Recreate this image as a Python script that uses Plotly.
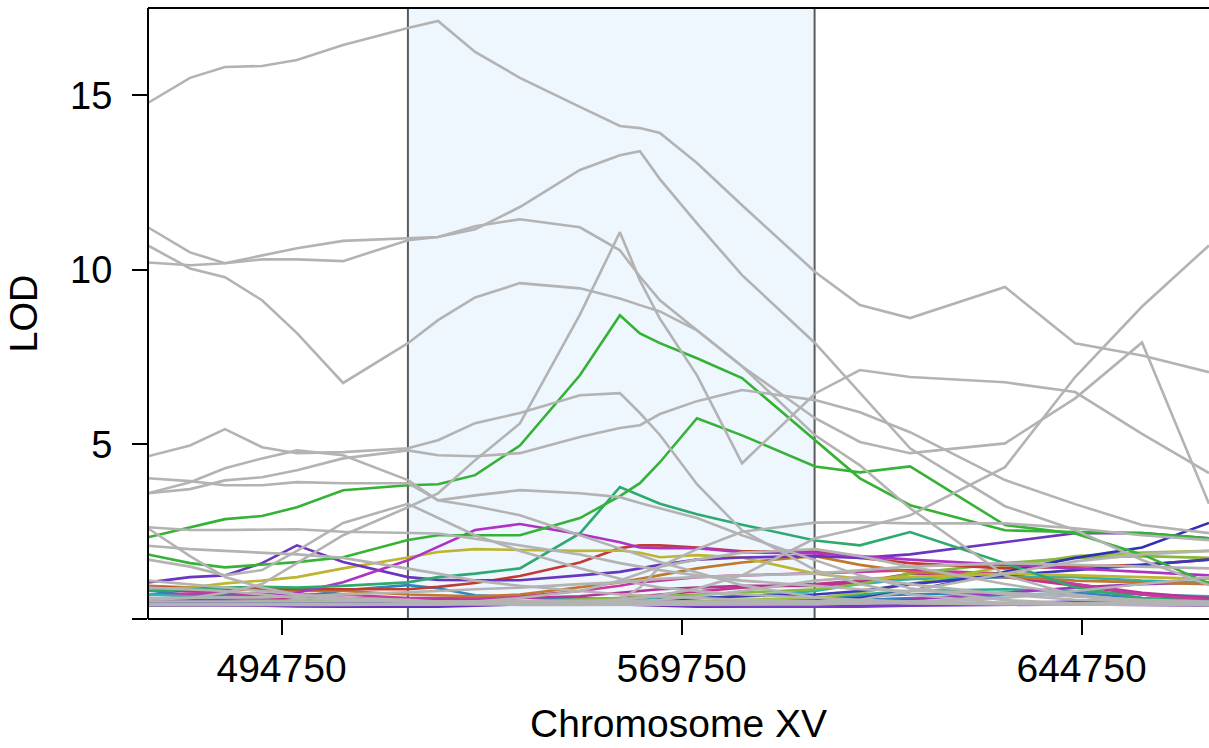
import plotly.graph_objects as go

# Marker positions on chromosome XV (bp)
POS = [469700, 477600, 484150, 491100, 497650, 506300, 518450, 524100, 531050, 539450,
       550700, 558200, 561950, 565700, 572650, 581100, 594800, 603200, 612600, 630400,
       643550, 656100, 668650]

X_RANGE = [469719, 668650]
Y_RANGE = [0, 17.5]
X_TICKS = [494750, 569750, 644750]
Y_TICKS = [0, 5, 10, 15]
Y_TICKTEXT = ["", "5", "10", "15"]
INTERVAL = [518450, 594700]

# ---- non-highlighted (gray) LOD curves ----
gray_g1 = [14.78, 15.50, 15.81, 15.84, 16.01, 16.44, 16.93, 17.13, 16.24, 15.50, 14.67, 14.12, 14.06, 13.92, 13.06, 11.85, 9.94, 8.99, 8.62, 9.51, 7.9, 7.55, 7.07]
gray_g2 = [10.21, 10.13, 10.19, 10.30, 10.30, 10.25, 10.85, 10.94, 11.16, 11.8, 12.86, 13.28, 13.4, 12.6, 11.33, 9.85, 7.9, 6.47, 4.89, 3.23, 2.55, 1.69, 0.97]
gray_a = [11.22, 10.5, 10.19, 10.42, 10.62, 10.83, 10.91, 10.94, 11.25, 11.45, 11.22, 10.56, 9.81, 9.13, 8.27, 7.24, 5.26, 4.4, 3.17, 1.25, 0.68, 0.45, 0.4]
gray_c = [10.7, 10.04, 9.79, 9.13, 8.19, 6.76, 7.9, 8.56, 9.21, 9.62, 9.47, 9.18, 8.99, 8.81, 8.27, 7.24, 5.75, 5.07, 4.75, 5.03, 6.32, 7.92, 3.3]
gray_v = [0.55, 0.6, 0.75, 1.0, 1.6, 2.4, 3.2, 3.6, 4.55, 5.6, 8.72, 11.08, 9.7, 8.6, 6.98, 4.46, 6.46, 7.13, 6.93, 6.78, 6.5, 5.3, 4.18]
gray_p5 = [4.66, 4.97, 5.44, 4.92, 4.75, 4.78, 4.89, 5.12, 5.61, 5.9, 6.41, 6.47, 5.9, 5.27, 3.86, 2.54, 1.4, 1.0, 0.7, 0.45, 0.42, 0.4, 0.4]
gray_mid = [3.6, 3.72, 3.97, 4.06, 4.26, 4.6, 4.83, 4.69, 4.66, 4.75, 5.21, 5.47, 5.55, 5.87, 6.24, 6.56, 6.27, 5.92, 5.35, 3.98, 3.29, 2.69, 2.46]
gray_39 = [4.03, 3.95, 3.83, 3.83, 3.92, 3.89, 3.89, 3.4, 3.23, 2.97, 2.4, 2.03, 1.83, 1.63, 1.34, 0.97, 0.62, 0.5, 0.45, 0.42, 0.42, 0.4, 0.4]
gray_hump = [3.6, 3.92, 4.32, 4.6, 4.83, 4.69, 3.98, 3.4, 3.54, 3.69, 3.6, 3.49, 3.32, 3.17, 2.89, 2.4, 1.68, 1.25, 0.88, 0.54, 0.45, 0.42, 0.4]
gray_rise = [0.4, 0.4, 0.38, 0.38, 0.38, 0.4, 0.42, 0.42, 0.45, 0.45, 0.48, 0.55, 0.6, 0.68, 0.87, 1.25, 2.31, 2.6, 2.97, 4.35, 6.93, 8.95, 10.7]
gray_flat = [0.42, 0.42, 0.42, 0.42, 0.42, 0.42, 0.42, 0.42, 0.42, 0.45, 0.5, 0.55, 0.9, 1.5, 2.0, 2.5, 2.76, 2.77, 2.74, 2.74, 2.6, 2.4, 2.26]
gray_pk = [1.7, 1.5, 1.25, 1.4, 1.95, 2.75, 3.3, 2.9, 2.4, 1.95, 1.45, 1.15, 1.0, 0.9, 0.8, 0.7, 0.6, 0.55, 0.5, 0.45, 0.42, 0.4, 0.4]
gray_l1 = [2.6, 1.8, 1.2, 0.9, 0.7, 0.55, 0.5, 0.48, 0.46, 0.45, 0.45, 0.45, 0.45, 0.45, 0.45, 0.45, 0.45, 0.45, 0.45, 0.45, 0.42, 0.42, 0.42]
gray_l2 = [2.1, 2.0, 1.95, 1.9, 1.85, 1.75, 1.45, 1.3, 1.1, 0.95, 0.8, 0.7, 0.68, 0.65, 0.6, 0.55, 0.5, 0.48, 0.46, 0.45, 0.45, 0.45, 0.45]
gray_l4 = [2.63, 2.55, 2.55, 2.57, 2.57, 2.5, 2.48, 2.45, 2.3, 2.1, 1.85, 1.6, 1.5, 1.4, 1.25, 1.1, 0.95, 0.85, 0.8, 0.75, 0.65, 0.55, 0.5]
gray_l5 = [0.5, 0.5, 0.5, 0.5, 0.5, 0.5, 0.5, 0.5, 0.5, 0.5, 0.5, 0.5, 0.5, 0.5, 0.5, 0.5, 0.5, 0.55, 0.8, 1.3, 1.65, 1.85, 1.95]
gray_l6 = [0.6, 0.6, 0.6, 0.62, 0.65, 0.7, 0.75, 0.8, 0.85, 0.9, 1.0, 1.05, 1.1, 1.15, 1.2, 1.25, 1.3, 1.4, 1.5, 1.6, 1.55, 1.5, 1.45]
gray_l7 = [1.1, 1.0, 0.9, 0.8, 0.7, 0.6, 0.55, 0.5, 0.5, 0.5, 0.5, 0.5, 0.52, 0.55, 0.65, 0.8, 1.1, 1.2, 1.0, 0.7, 0.55, 0.5, 0.45]
gray_l8 = [0.9, 0.85, 0.8, 0.7, 0.6, 0.55, 0.5, 0.45, 0.42, 0.4, 0.4, 0.4, 0.4, 0.4, 0.4, 0.4, 0.42, 0.45, 0.5, 0.6, 0.8, 1.0, 1.2]
gray_l9 = [0.4, 0.4, 0.4, 0.4, 0.4, 0.4, 0.42, 0.45, 0.5, 0.6, 0.8, 1.1, 1.3, 1.5, 1.7, 1.9, 2.0, 1.8, 1.5, 1.0, 0.7, 0.5, 0.45]

# ---- highlighted (coloured) LOD curves ----
col_green1 = [2.34, 2.63, 2.86, 2.95, 3.2, 3.69, 3.83, 3.86, 4.12, 4.97, 6.98, 8.7, 8.18, 7.9, 7.47, 6.9, 5.12, 4.03, 3.26, 2.54, 2.49, 2.46, 2.31]
col_green2 = [1.85, 1.6, 1.48, 1.55, 1.63, 1.77, 2.26, 2.4, 2.4, 2.4, 2.89, 3.52, 3.89, 4.49, 5.75, 5.26, 4.37, 4.2, 4.37, 2.69, 2.45, 1.85, 1.02]
col_teal = [0.8, 0.85, 0.9, 0.92, 0.9, 0.95, 1.05, 1.2, 1.3, 1.45, 2.45, 3.78, 3.55, 3.3, 3.0, 2.7, 2.25, 2.11, 2.49, 1.6, 0.9, 0.6, 0.5]
col_magenta = [0.55, 0.58, 0.6, 0.62, 0.75, 1.05, 1.68, 2.06, 2.55, 2.72, 2.43, 2.2, 2.05, 2.03, 2.03, 1.91, 1.88, 1.8, 1.7, 1.55, 1.45, 1.35, 1.25]
col_olive = [0.85, 0.9, 1.02, 1.1, 1.2, 1.45, 1.76, 1.92, 2.0, 1.98, 1.95, 1.96, 1.9, 1.77, 1.83, 1.76, 1.3, 1.15, 1.2, 1.3, 1.25, 1.2, 1.15]
col_purple = [1.05, 1.2, 1.25, 1.6, 2.11, 1.63, 1.2, 1.12, 1.11, 1.11, 1.25, 1.35, 1.45, 1.55, 1.7, 1.76, 1.8, 1.75, 1.85, 2.2, 2.46, 2.46, 2.31]
col_blue = [0.45, 0.45, 0.45, 0.45, 0.45, 0.45, 0.45, 0.45, 0.45, 0.45, 0.45, 0.45, 0.45, 0.45, 0.48, 0.5, 0.52, 0.6, 0.8, 1.35, 1.75, 2.05, 2.75]
col_blue2 = [0.55, 0.5, 0.5, 0.48, 0.45, 0.45, 0.45, 0.45, 0.45, 0.45, 0.45, 0.5, 0.5, 0.55, 0.6, 0.65, 0.7, 0.8, 1.0, 1.25, 1.4, 1.55, 1.7]
col_red = [0.9, 0.88, 0.87, 0.87, 0.85, 0.85, 0.85, 0.92, 1.03, 1.23, 1.62, 2.03, 2.11, 2.11, 2.05, 1.94, 1.94, 1.75, 1.6, 1.45, 1.5, 1.55, 1.7]
col_orange = [0.95, 0.9, 0.85, 0.82, 0.8, 0.8, 0.7, 0.68, 0.65, 0.7, 0.9, 1.05, 1.15, 1.25, 1.45, 1.62, 1.8, 1.55, 1.35, 1.2, 1.1, 1.05, 1.0]
col_lime = [0.4, 0.4, 0.42, 0.42, 0.42, 0.42, 0.45, 0.45, 0.45, 0.5, 0.55, 0.6, 0.62, 0.65, 0.7, 0.75, 0.85, 1.0, 1.3, 1.6, 1.75, 1.8, 1.75]
col_lime2 = [0.5, 0.5, 0.5, 0.5, 0.5, 0.5, 0.5, 0.5, 0.5, 0.5, 0.5, 0.5, 0.5, 0.5, 0.5, 0.55, 0.6, 0.75, 1.0, 1.5, 1.8, 1.9, 1.95]
col_cyan = [0.7, 0.65, 0.6, 0.55, 0.5, 0.5, 0.5, 0.5, 0.5, 0.5, 0.5, 0.52, 0.55, 0.58, 0.6, 0.65, 0.8, 1.0, 1.15, 1.2, 1.2, 1.1, 1.05]
col_pink1 = [0.7, 0.72, 0.75, 0.72, 0.7, 0.7, 0.6, 0.6, 0.6, 0.65, 0.8, 0.95, 1.05, 1.1, 1.2, 1.25, 1.3, 1.35, 1.4, 1.3, 1.0, 0.7, 0.55]
col_pink2 = [0.55, 0.55, 0.58, 0.6, 0.6, 0.55, 0.5, 0.5, 0.5, 0.5, 0.55, 0.6, 0.65, 0.7, 0.8, 0.9, 1.0, 1.1, 1.15, 1.2, 0.95, 0.7, 0.5]
col_pink3 = [0.85, 0.8, 0.75, 0.7, 0.65, 0.6, 0.55, 0.55, 0.55, 0.6, 0.65, 0.75, 0.8, 0.85, 0.9, 0.95, 0.95, 1.05, 1.3, 1.25, 1.0, 0.75, 0.6]
col_steel = [0.82, 0.68, 0.68, 0.68, 0.62, 0.82, 0.97, 0.88, 0.68, 0.62, 0.6, 0.55, 0.55, 0.52, 0.5, 0.5, 0.55, 0.65, 0.7, 0.75, 0.65, 0.55, 0.5]
col_steel2 = [0.6, 0.55, 0.55, 0.55, 0.5, 0.5, 0.5, 0.5, 0.5, 0.5, 0.5, 0.5, 0.5, 0.5, 0.5, 0.5, 0.5, 0.55, 0.6, 0.7, 0.75, 0.6, 0.5]
col_violet = [0.45, 0.42, 0.4, 0.38, 0.36, 0.35, 0.35, 0.35, 0.38, 0.42, 0.45, 0.42, 0.4, 0.38, 0.35, 0.35, 0.36, 0.38, 0.4, 0.45, 0.5, 0.45, 0.4]
col_violet2 = [0.38, 0.38, 0.38, 0.38, 0.38, 0.4, 0.42, 0.45, 0.5, 0.5, 0.48, 0.45, 0.42, 0.4, 0.38, 0.35, 0.35, 0.35, 0.38, 0.4, 0.42, 0.4, 0.38]
col_magenta2 = [0.6, 0.58, 0.55, 0.52, 0.5, 0.48, 0.45, 0.45, 0.45, 0.45, 0.45, 0.45, 0.45, 0.45, 0.45, 0.45, 0.45, 0.5, 0.55, 0.75, 0.9, 1.0, 1.05]
col_teal2 = [0.4, 0.42, 0.45, 0.45, 0.45, 0.45, 0.45, 0.45, 0.45, 0.45, 0.45, 0.45, 0.45, 0.45, 0.45, 0.5, 0.6, 0.7, 0.8, 0.85, 0.8, 0.7, 0.65]

GRAY = "#B3B3B3"
gray_curves = [gray_l1, gray_l2, gray_l4, gray_l5, gray_l6, gray_l7, gray_l8, gray_l9,
               gray_pk, gray_flat, gray_rise, gray_hump, gray_39, gray_mid, gray_p5,
               gray_v, gray_c, gray_a, gray_g2, gray_g1]
colored_curves = [
    (col_violet, "#6B2FBF"), (col_violet2, "#7A3AC8"), (col_teal2, "#2EAA8C"),
    (col_steel2, "#3A7FC0"), (col_steel, "#2E86C1"), (col_magenta2, "#A233C4"),
    (col_pink2, "#C0338C"), (col_pink3, "#B83196"), (col_pink1, "#C53AA0"),
    (col_cyan, "#2EB5B0"), (col_lime2, "#9AC03A"), (col_lime, "#86B83C"),
    (col_orange, "#C0782E"), (col_red, "#C23B30"), (col_blue2, "#3A3AB8"),
    (col_blue, "#3030B5"), (col_olive, "#BDB52F"), (col_purple, "#6A35C0"),
    (col_magenta, "#AE32C4"), (col_teal, "#2EAA6E"), (col_green2, "#36B336"),
    (col_green1, "#33B233"),
]

LW = 2.6
fig = go.Figure()
for vals, colr in colored_curves:
    fig.add_trace(go.Scatter(x=POS, y=vals, mode="lines",
                             line=dict(color=colr, width=LW), hoverinfo="skip"))
for vals in gray_curves:
    fig.add_trace(go.Scatter(x=POS, y=vals, mode="lines",
                             line=dict(color=GRAY, width=LW), hoverinfo="skip"))

# highlighted interval
fig.add_shape(type="rect", xref="x", yref="paper", x0=INTERVAL[0], x1=INTERVAL[1],
              y0=0, y1=1, fillcolor="#EEF6FE", line=dict(width=0), layer="below")
for xv in INTERVAL:
    fig.add_shape(type="line", xref="x", yref="paper", x0=xv, x1=xv, y0=0, y1=1,
                  line=dict(color="#5A5A5A", width=2), layer="below")

# plot frame (left, top, bottom)
frame = dict(color="black", width=2)
fig.add_shape(type="line", xref="paper", yref="paper", x0=0, x1=0, y0=0, y1=1, line=frame)
fig.add_shape(type="line", xref="paper", yref="paper", x0=0, x1=1, y0=1, y1=1, line=frame)
fig.add_shape(type="line", xref="paper", yref="paper", x0=0, x1=1, y0=0, y1=0, line=frame)

FONT = "Liberation Sans, Arial, Helvetica, sans-serif"
fig.update_layout(
    width=1209, height=748,
    margin=dict(l=148, r=0, t=8, b=129),
    paper_bgcolor="white", plot_bgcolor="white",
    showlegend=False,
    font=dict(family=FONT, size=38, color="black"),
    xaxis=dict(range=X_RANGE, showgrid=False, zeroline=False, showline=False,
               ticks="outside", ticklen=15, tickwidth=2, tickcolor="black",
               tickvals=X_TICKS, ticktext=[str(t) for t in X_TICKS],
               tickfont=dict(size=39), ticklabelstandoff=0,
               title=dict(text="Chromosome XV", font=dict(size=39), standoff=20)),
    yaxis=dict(range=Y_RANGE, showgrid=False, zeroline=False, showline=False,
               ticks="outside", ticklen=15, tickwidth=2, tickcolor="black",
               tickvals=Y_TICKS, ticktext=Y_TICKTEXT,
               tickfont=dict(size=38), ticklabelstandoff=12,
               title=dict(text="LOD", font=dict(size=38), standoff=20)),
)

fig.write_html("out.html", config={"displayModeBar": False},
               post_script="document.body.style.margin='0';document.body.style.overflow='hidden';")
